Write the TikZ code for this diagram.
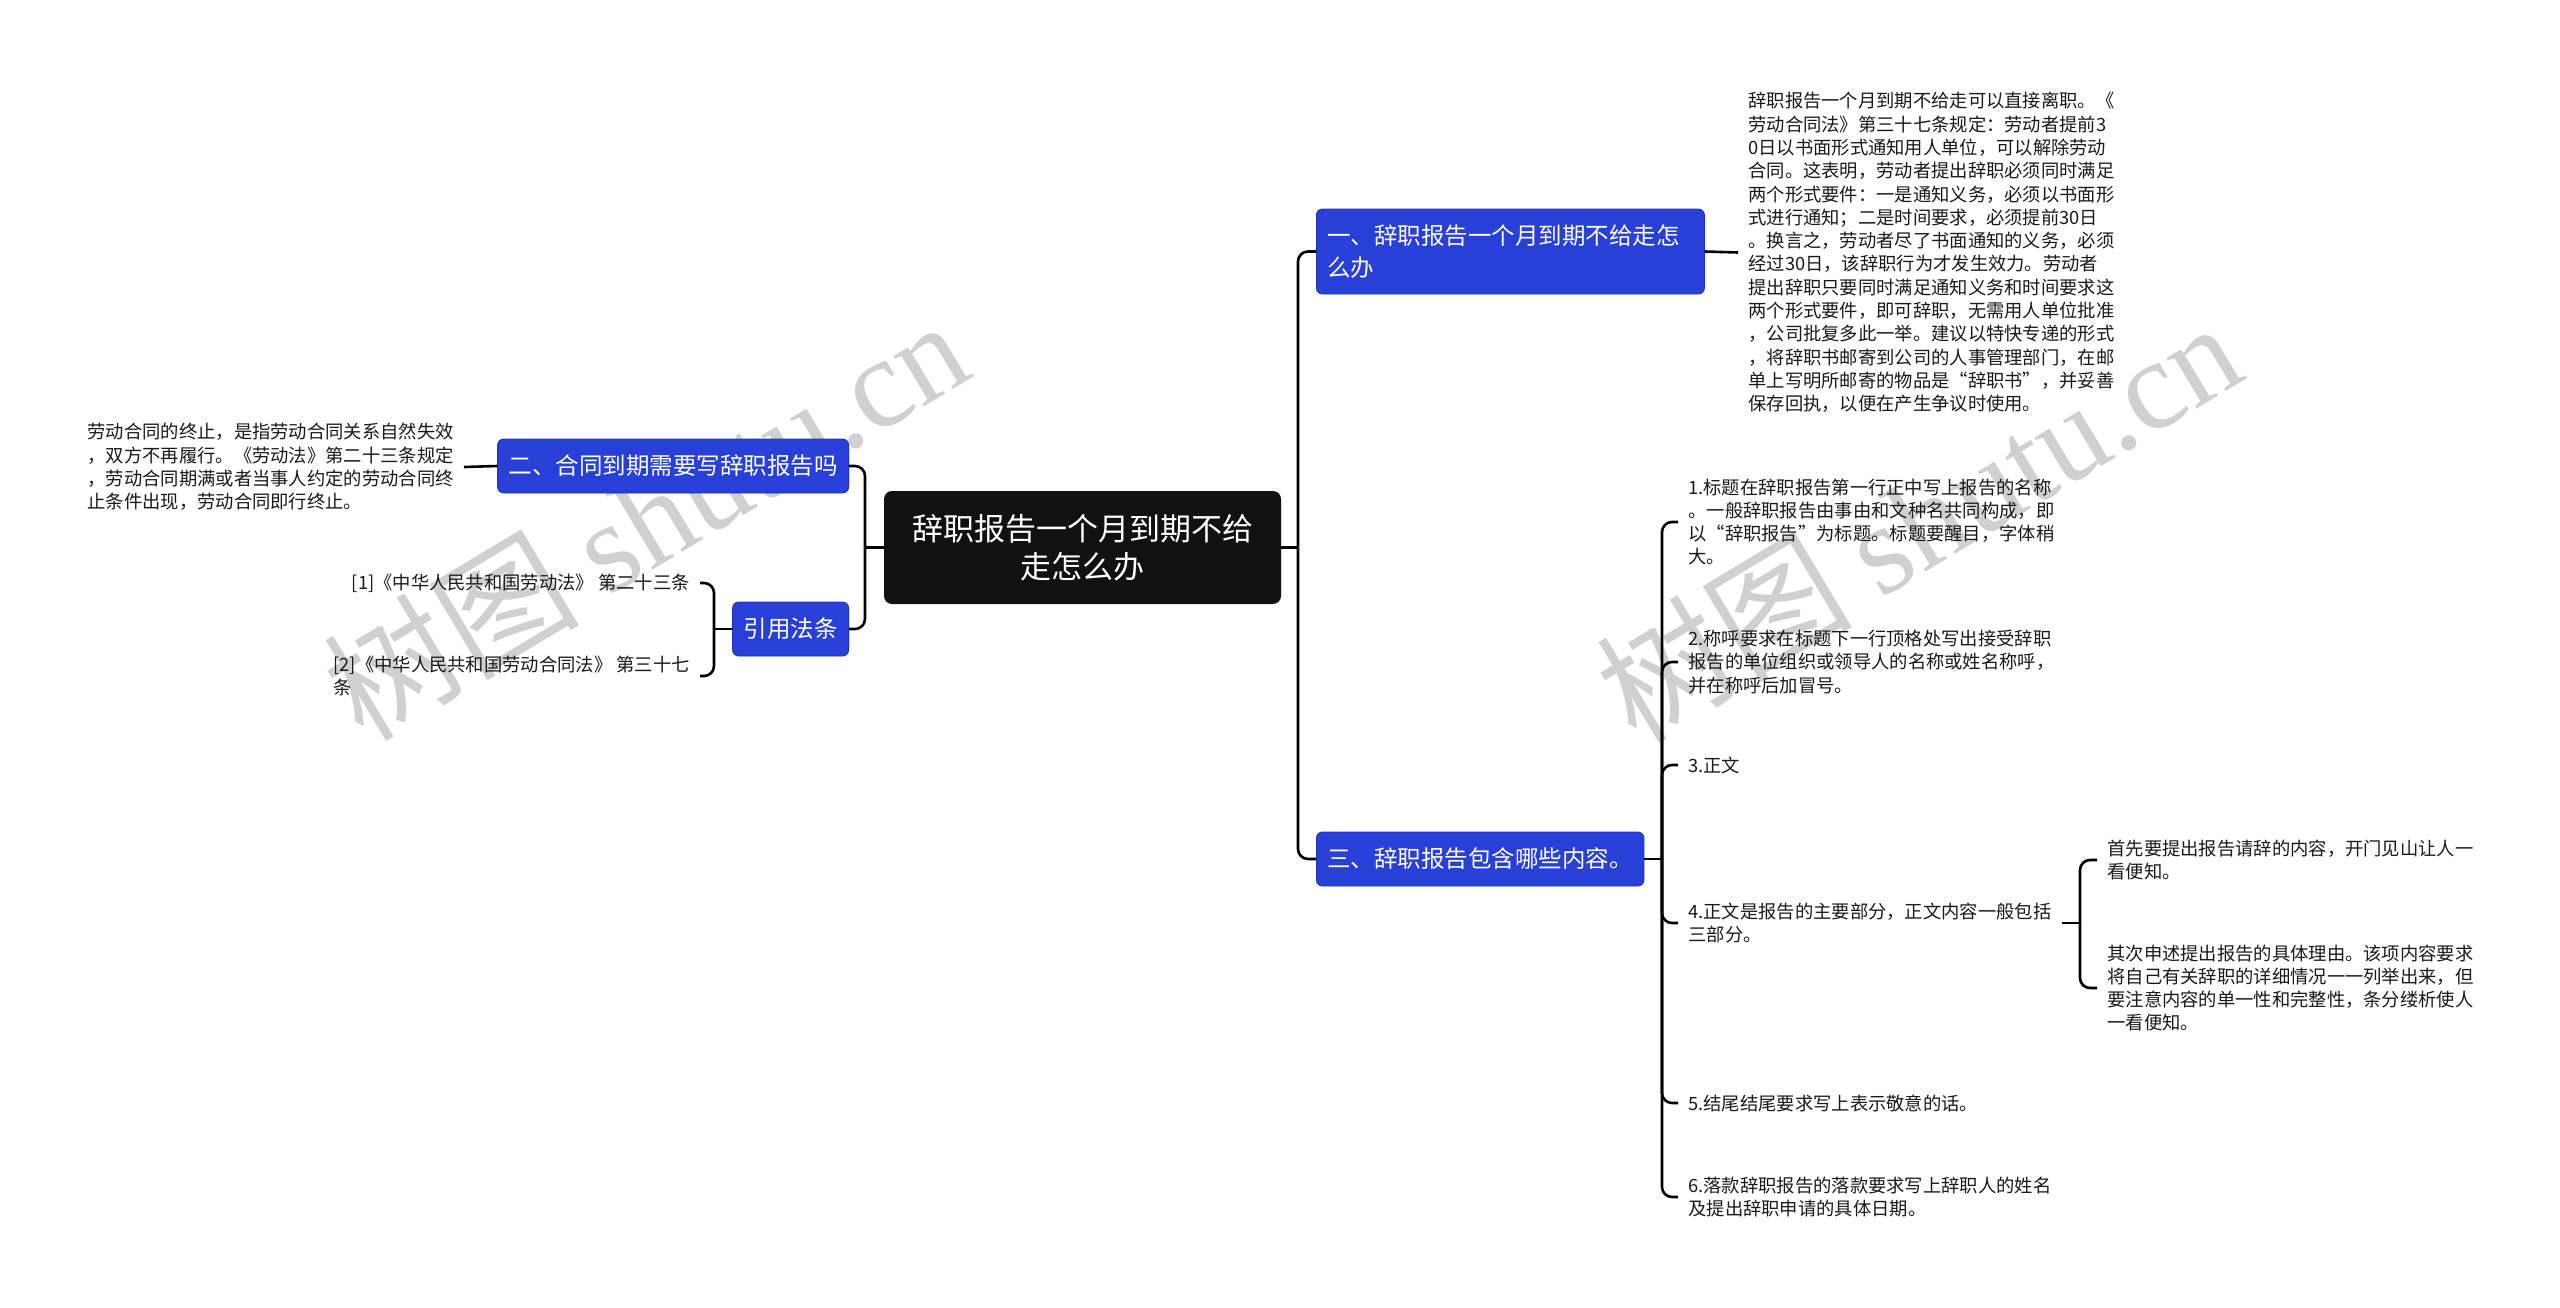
\documentclass[tikz,border=0pt]{standalone}
\usepackage{fontspec}
\setmainfont{Noto Sans CJK SC}
\newfontfamily\wmserif{Liberation Serif}
\definecolor{topicblue}{RGB}{40,64,216}
\definecolor{topicedge}{RGB}{30,50,185}
\definecolor{rootfill}{RGB}{17,17,17}
\definecolor{leaftext}{RGB}{25,25,25}
\definecolor{wmgray}{RGB}{208,208,208}
\tikzset{
  rootnode/.style={fill=rootfill, rounded corners=4pt, text=white, align=center,
    font=\fontsize{15.5pt}{19pt}\selectfont, minimum width=198.5pt, minimum height=56.5pt, inner sep=0pt},
  topic/.style={fill=topicblue, draw=topicedge, line width=0.4pt, rounded corners=3pt, text=white, align=left,
    font=\fontsize{11.75pt}{16pt}\selectfont, inner xsep=5.5pt, inner ysep=0pt, minimum height=27pt},
  leaf/.style={align=left, text=leaftext, font=\fontsize{9.15pt}{11.65pt}\selectfont, inner xsep=5pt, inner ysep=1pt},
  conn/.style={draw=black, line width=1.3pt, rounded corners=5pt},
  wm/.style={text=wmgray, rotate=31, inner sep=0pt, font=\fontsize{64pt}{70pt}\selectfont}
}
\begin{document}
\begin{tikzpicture}[x=0.5pt,y=-0.5pt]
\useasboundingbox (0,0) rectangle (2560,1307);
% watermarks
\node[wm] (wmL) at (645,518) {树图 {\wmserif shutu.cn}};
\node[wm] (wmR) at (1918,520) {树图 {\wmserif shutu.cn}};

% root
\node[rootnode] (root) at (1082.5,547.5) {辞职报告一个月到期不给\\走怎么办};

% topics
\node[topic, anchor=west, text width=183pt, minimum height=42.5pt] (b1) at (1316,251.5) {一、辞职报告一个月到期不给走怎\\么办};
\node[topic, anchor=west] (b3) at (1316,859) {三、辞职报告包含哪些内容。};
\node[topic, anchor=east] (b2) at (849,466) {二、合同到期需要写辞职报告吗};
\node[topic, anchor=east] (cite) at (849,629) {引用法条};

% leaves
\node[leaf, anchor=west] (l1) at (1738,252.5) {辞职报告一个月到期不给走可以直接离职。《\\劳动合同法》第三十七条规定：劳动者提前3\\0日以书面形式通知用人单位，可以解除劳动\\合同。这表明，劳动者提出辞职必须同时满足\\两个形式要件：一是通知义务，必须以书面形\\式进行通知；二是时间要求，必须提前30日\\。换言之，劳动者尽了书面通知的义务，必须\\经过30日，该辞职行为才发生效力。劳动者\\提出辞职只要同时满足通知义务和时间要求这\\两个形式要件，即可辞职，无需用人单位批准\\，公司批复多此一举。建议以特快专递的形式\\，将辞职书邮寄到公司的人事管理部门，在邮\\单上写明所邮寄的物品是“辞职书”，并妥善\\保存回执，以便在产生争议时使用。};

\node[leaf, anchor=east] (l2) at (464,467) {劳动合同的终止，是指劳动合同关系自然失效\\，双方不再履行。《劳动法》第二十三条规定\\，劳动合同期满或者当事人约定的劳动合同终\\止条件出现，劳动合同即行终止。};

\node[leaf, anchor=east] (r1) at (700,583) {[1]《中华人民共和国劳动法》 第二十三条};
\node[leaf, anchor=east] (r2) at (700,676) {[2]《中华人民共和国劳动合同法》 第三十七\\条};

\node[leaf, anchor=west] (i1) at (1678,522) {1.标题在辞职报告第一行正中写上报告的名称\\。一般辞职报告由事由和文种名共同构成，即\\以“辞职报告”为标题。标题要醒目，字体稍\\大。};
\node[leaf, anchor=west] (i2) at (1678,662) {2.称呼要求在标题下一行顶格处写出接受辞职\\报告的单位组织或领导人的名称或姓名称呼，\\并在称呼后加冒号。};
\node[leaf, anchor=west] (i3) at (1678,765) {3.正文};
\node[leaf, anchor=west] (i4) at (1678,923) {4.正文是报告的主要部分，正文内容一般包括\\三部分。};
\node[leaf, anchor=west] (i5) at (1678,1103) {5.结尾结尾要求写上表示敬意的话。};
\node[leaf, anchor=west] (i6) at (1678,1197) {6.落款辞职报告的落款要求写上辞职人的姓名\\及提出辞职申请的具体日期。};

\node[leaf, anchor=west] (s1) at (2097,860) {首先要提出报告请辞的内容，开门见山让人一\\看便知。};
\node[leaf, anchor=west] (s2) at (2097,988) {其次申述提出报告的具体理由。该项内容要求\\将自己有关辞职的详细情况一一列举出来，但\\要注意内容的单一性和完整性，条分缕析使人\\一看便知。};

% junctions
\coordinate (jR) at (1298,547.5);
\coordinate (jL) at (865,547.5);
\coordinate (j3) at (1662,859);
\coordinate (j4) at (2080,923);
\coordinate (jc) at (714,629);

% connectors
\draw[conn] (root.east) -- (jR);
\draw[conn] (jR) |- (b1.west);
\draw[conn] (jR) |- (b3.west);
\draw[conn] (root.west) -- (jL);
\draw[conn] (jL) |- (b2.east);
\draw[conn] (jL) |- (cite.east);

\draw[conn] (b1.east) -- (l1.west);
\draw[conn] (b2.west) -- (l2.east);

\draw[conn] (cite.west) -- (jc);
\draw[conn] (jc) |- (r1.east);
\draw[conn] (jc) |- (r2.east);

\draw[conn] (b3.east) -- (j3);
\draw[conn] (j3) |- (i1.west);
\draw[conn] (j3) |- (i2.west);
\draw[conn] (j3) |- (i3.west);
\draw[conn] (j3) |- (i4.west);
\draw[conn] (j3) |- (i5.west);
\draw[conn] (j3) |- (i6.west);

\draw[conn] (i4.east) -- (j4);
\draw[conn] (j4) |- (s1.west);
\draw[conn] (j4) |- (s2.west);
\end{tikzpicture}
\end{document}
